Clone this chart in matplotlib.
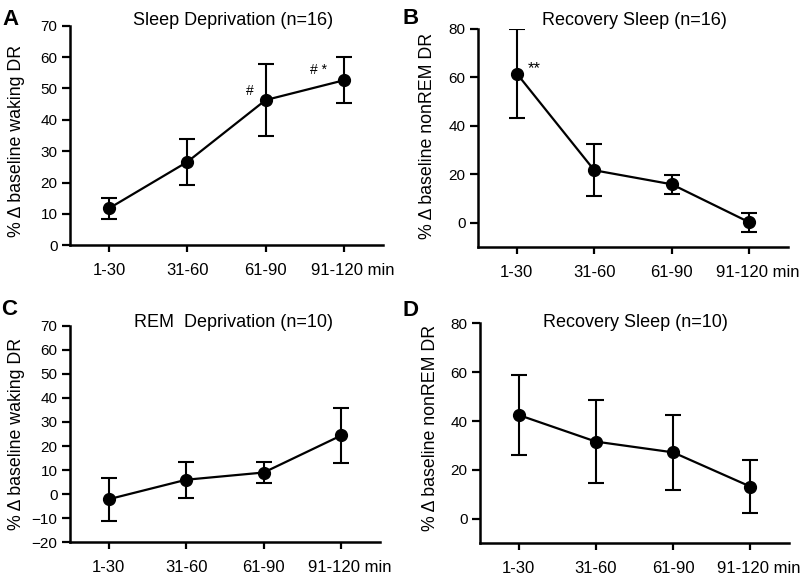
import matplotlib
matplotlib.use("Agg")
import matplotlib.pyplot as plt
import matplotlib.transforms as mtransforms

plt.rcParams['font.family'] = ['Liberation Sans', 'DejaVu Sans']

categories = ["1-30", "31-60", "61-90", "91-120 min"]

a_vals = [11.8, 26.6, 46.3, 52.6]
a_err = [3.3, 7.3, 11.5, 7.3]
b_vals = [61.6, 21.6, 15.8, 0.1]
b_err = [18.2, 10.8, 3.9, 3.9]
c_vals = [-2.1, 6.0, 9.0, 24.4]
c_err = [9.0, 7.4, 4.3, 11.6]
d_vals = [42.5, 31.6, 27.2, 13.2]
d_err = [16.4, 17.0, 15.3, 10.9]

titles = ["Sleep Deprivation (n=16)", "Recovery Sleep (n=16)",
          "REM  Deprivation (n=10)", "Recovery Sleep (n=10)"]
ylabels = ["% \u0394 baseline waking DR", "% \u0394 baseline nonREM DR",
           "% \u0394 baseline waking DR", "% \u0394 baseline nonREM DR"]
letters = ["A", "B", "C", "D"]
yticks_list = [list(range(0, 71, 10)), [0, 20, 40, 60, 80],
               list(range(-20, 71, 10)), [0, 20, 40, 60, 80]]
ylims = [(0, 70), (-10, 80), (-20, 70), (-10, 80)]

W, H = 810, 576
fig = plt.figure(figsize=(W / 100, H / 100), dpi=100)

# pixel boxes: left, right, top, bottom
boxes = [(70, 383, 25.7, 245.3), (478, 788, 29, 246.7),
         (70, 380, 325.7, 542.3), (480, 789, 323.3, 543.3)]
title_pos = [(0.521, 1.005), (0.506, 1.018), (0.527, 0.995), (0.502, 0.982)]
letter_pos = [(2, 25), (403, 23.5), (1.5, 315), (403, 316)]
ylabel_pos = [(-45, 0.475), (-42, 0.51), (-45, 0.5), (-41, 0.526)]

data = [(a_vals, a_err), (b_vals, b_err), (c_vals, c_err), (d_vals, d_err)]

axes = []
for i in range(4):
    l, r, t, b = boxes[i]
    ax = fig.add_axes([l / W, (H - b) / H, (r - l) / W, (b - t) / H])
    axes.append(ax)
    vals, err = data[i]
    x = list(range(len(categories)))
    ax.errorbar(x, vals, yerr=err, color='black', lw=1.6, marker='o',
                markersize=8.5, elinewidth=1.5, capsize=6, capthick=1.5)
    ax.set_xlim(-0.5, 3.5)
    ax.set_ylim(*ylims[i])
    ax.set_yticks(yticks_list[i])
    ax.set_xticks(x)
    ax.set_xticklabels(categories, fontsize=12)
    ax.tick_params(axis='y', labelsize=11, length=6, width=1.6, pad=3)
    ax.tick_params(axis='x', length=5, width=1.6, pad=8)
    for s in ['top', 'right']:
        ax.spines[s].set_visible(False)
    for s in ['left', 'bottom']:
        ax.spines[s].set_linewidth(1.8)
    ax.set_ylabel(ylabels[i], fontsize=12.8)
    ax.yaxis.set_label_coords(ylabel_pos[i][0] / (r - l), ylabel_pos[i][1])
    tx, ty = title_pos[i]
    ax.text(tx, ty, titles[i], transform=ax.transAxes, ha='center',
            va='baseline', fontsize=13)
    fig.text(letter_pos[i][0] / W, (H - letter_pos[i][1]) / H, letters[i],
             fontsize=16, fontweight='bold', ha='left', va='baseline')
    # shift last tick label ("min" appended)
    lbl = ax.get_xticklabels()[-1]
    lbl.set_transform(lbl.get_transform() +
                      mtransforms.ScaledTranslation(8.5 / 100, 0, fig.dpi_scale_trans))

# significance marks
axes[0].text(1.80, 47.9, "#", ha='center', va='baseline', fontsize=10)
axes[0].text(2.67, 54.6, "# *", ha='center', va='baseline', fontsize=10)
axes[1].text(0.23, 61.9, "**", ha='center', va='baseline', fontsize=12)

fig.savefig("out.png", dpi=100)
